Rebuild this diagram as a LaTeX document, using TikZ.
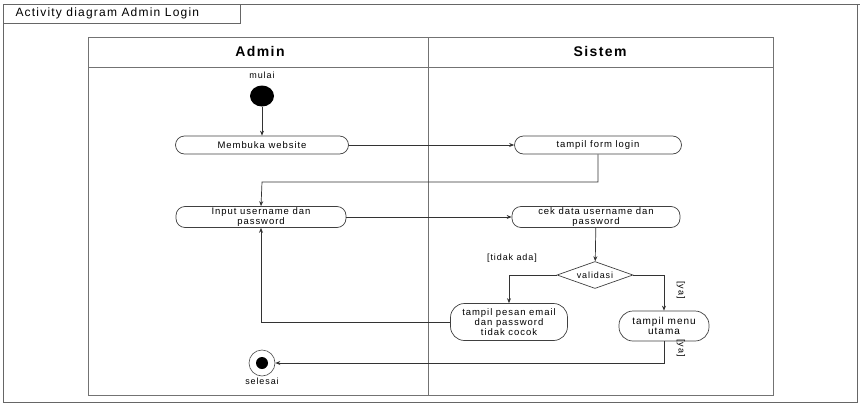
\documentclass[tikz,border=0pt]{standalone}
\usepackage{fontspec}
\setmainfont{Liberation Sans}
\newfontfamily\widesans[LetterSpace=10]{Liberation Sans}
\usetikzlibrary{shapes.geometric,arrows.meta}
\begin{document}
\begin{tikzpicture}[x=1pt,y=-1pt,
  act/.style={draw=black!75, rounded corners=9pt, minimum height=18pt, font=\widesans\fontsize{9.5}{10}\selectfont, align=center, inner sep=1pt, line width=0.7pt},
  flow/.style={draw=black!80, line width=0.7pt, -{Stealth[length=5pt,width=4pt]}},
  lab/.style={font=\widesans\fontsize{9}{10}\selectfont},
  lane/.style={draw=black!55, line width=1pt}]
\useasboundingbox (0,0) rectangle (865,407);
% outer frame
\draw[black!60, line width=0.8pt] (3,402) -- (3,4) -- (860,4);
\draw[black!60, line width=0.8pt] (857,4) -- (857,402) -- (3,402);
\node[draw=black!60, line width=0.8pt, anchor=north west, minimum width=237pt, minimum height=19pt, inner sep=0pt] (title) at (3,4) {};
\node[anchor=west, font=\widesans\fontsize{12}{13}\selectfont] (titletext) at (12,13) {Activity diagram Admin Login};
% swimlanes
\draw[lane] (88,37) rectangle (773,395);
\draw[lane] (428,37) -- (428,395);
\draw[lane] (88,67) -- (773,67);
\node[font=\widesans\bfseries\fontsize{14}{15}\selectfont] (hadmin) at (260,51) {Admin};
\node[font=\widesans\bfseries\fontsize{14}{15}\selectfont] (hsistem) at (600,51) {Sistem};
% nodes
\node[lab] (mulai) at (262,75) {mulai};
\node[fill=black, ellipse, minimum width=24pt, minimum height=21pt, inner sep=0pt] (start) at (262,96) {};
\node[act, minimum width=173pt] (web) at (262,145) {Membuka website};
\node[act, minimum width=167pt] (form) at (598,145) {tampil form login};
\node[act, minimum width=170pt, minimum height=21pt] (input) at (261,217) {Input username dan\\password};
\node[act, minimum width=168pt, minimum height=21pt] (cek) at (596,217) {cek data username dan\\password};
\node[draw=black!75, line width=0.7pt, diamond, aspect=2.7, minimum width=76pt, minimum height=27pt, inner sep=0pt, font=\widesans\fontsize{9}{10}\selectfont] (val) at (595,275) {validasi};
\node[act, minimum width=117pt, minimum height=37pt, rounded corners=14pt, font=\widesans\fontsize{9.5}{9.8}\selectfont] (pesan) at (509,322) {tampil pesan email\\dan password\\tidak cocok};
\node[act, minimum width=90pt, minimum height=30pt, rounded corners=14pt, font=\widesans\fontsize{10}{10.5}\selectfont] (menu) at (664,326) {tampil menu\\utama};
\node[draw=black!70, circle, minimum size=26pt, inner sep=0pt, line width=0.6pt] (end) at (262,363) {};
\node[fill=black, circle, minimum size=12pt, inner sep=0pt] (endin) at (end.center) {};
\node[lab] (selesai) at (262,381) {selesai};
\node[lab] (tidak) at (512,258) {[tidak ada]};
\node[lab, rotate=-90] (ya1) at (681,290) {[ya]};
\node[lab, rotate=-90] (ya2) at (681,348) {[ya]};
% connectors
\draw[flow] (start) -- (web);
\draw[flow] (web) -- (form);
\draw[flow] (form.south) |- (262,182) -- (input.north);
\draw[flow] (input) -- (cek);
\draw[flow] (cek) -- (val);
\draw[flow] (val.west) -| (pesan.north);
\draw[flow] (val.east) -| (menu.north);
\draw[flow] (pesan.west) -| (input.south);
\draw[flow] (menu.south) |- (end.east);
\end{tikzpicture}
\end{document}
